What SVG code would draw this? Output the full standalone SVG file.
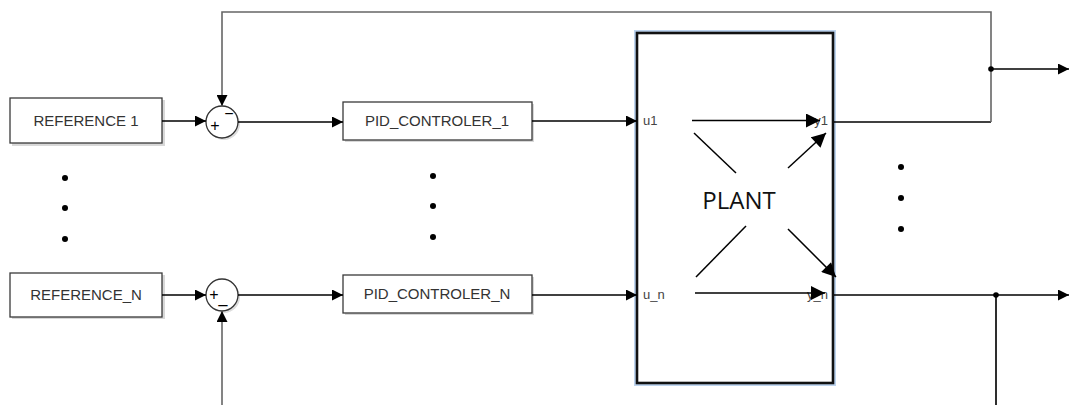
<svg xmlns="http://www.w3.org/2000/svg" width="1070" height="405" viewBox="0 0 1070 405">
<style>
.box{fill:#fff;stroke:#3a3a3a;stroke-width:1.3}
.shadow{fill:#d8d8d8}
.lbl{font-family:"Liberation Sans",Arial,sans-serif;font-size:15px;fill:#333;text-anchor:middle}
.port{font-family:"Liberation Sans",Arial,sans-serif;font-size:13px;fill:#444}
.wire{fill:none;stroke:#000;stroke-width:1.3}
.fb{fill:none;stroke:#666;stroke-width:1.6}
.big{fill:none;stroke:#000;stroke-width:1.5}
.sign{font-family:"Liberation Sans",Arial,sans-serif;font-size:16px;fill:#000;text-anchor:middle}
</style>
<defs>
<marker id="ah" viewBox="0 0 10 10" refX="10" refY="5" markerWidth="12" markerHeight="11" markerUnits="userSpaceOnUse" orient="auto">
<path d="M0,0 L10,5 L0,10 Z" fill="#000"/>
</marker>
<marker id="ahb" viewBox="0 0 10 10" refX="10" refY="5" markerWidth="15" markerHeight="14" markerUnits="userSpaceOnUse" orient="auto">
<path d="M0,0 L10,5 L0,10 Z" fill="#000"/>
</marker>
</defs>

<g id="ref1">
<rect class="shadow" x="12" y="100" width="153" height="46"/>
<rect class="box" x="10" y="98" width="152" height="45"/>
<text class="lbl" x="86" y="126">REFERENCE 1</text>
</g>
<g id="refN">
<rect class="shadow" x="12" y="275" width="153" height="44"/>
<rect class="box" x="10" y="273" width="152" height="44"/>
<text class="lbl" x="86" y="300">REFERENCE_N</text>
</g>
<g id="sum1">
<circle cx="224" cy="124" r="16" fill="#ddd"/>
<circle cx="222" cy="122" r="16" fill="#fff" stroke="#333" stroke-width="1.3"/>
<text class="sign" x="215" y="131">+</text>
<text class="sign" x="229" y="119">−</text>
</g>
<g id="sumN">
<circle cx="224" cy="297" r="16" fill="#ddd"/>
<circle cx="222" cy="295" r="16" fill="#fff" stroke="#333" stroke-width="1.3"/>
<text class="sign" x="214" y="300">+</text>
<text class="sign" x="223" y="303">_</text>
</g>
<g id="pid1">
<rect class="shadow" x="345" y="104" width="189" height="38"/>
<rect class="box" x="343" y="102" width="189" height="38"/>
<text class="lbl" x="437" y="126">PID_CONTROLER_1</text>
</g>
<g id="pidN">
<rect class="shadow" x="345" y="277" width="189" height="38"/>
<rect class="box" x="343" y="275" width="189" height="38"/>
<text class="lbl" x="437" y="299">PID_CONTROLER_N</text>
</g>
<g id="plant">
<rect x="637" y="33" width="196" height="350" fill="none" stroke="#bcd3ee" stroke-width="6"/>
<rect x="637" y="33" width="196" height="350" fill="#fff" stroke="#111" stroke-width="2.6"/>
<text class="port" x="643" y="125">u1</text>
<text class="port" x="643" y="299">u_n</text>
<text class="port" x="828" y="125" text-anchor="end">y1</text>
<text class="port" x="828" y="299" text-anchor="end">y_n</text>
<text x="739" y="209" font-family="'Open Sans','Liberation Sans',sans-serif" font-size="24" fill="#111" text-anchor="middle">PLANT</text>
<line class="big" x1="692" y1="120.5" x2="820" y2="120.5" marker-end="url(#ahb)"/>
<line class="big" x1="695" y1="293" x2="825" y2="293" marker-end="url(#ahb)"/>
<line class="big" x1="694" y1="133" x2="736" y2="173"/>
<line class="big" x1="788" y1="168" x2="826" y2="133" marker-end="url(#ahb)"/>
<line class="big" x1="696" y1="277" x2="746" y2="226"/>
<line class="big" x1="788" y1="229" x2="836" y2="277" marker-end="url(#ahb)"/>
</g>
<g id="dots" fill="#000">
<circle cx="65" cy="178" r="3"/>
<circle cx="65" cy="208" r="3"/>
<circle cx="65" cy="239" r="3"/>
<circle cx="433" cy="176" r="3"/>
<circle cx="433" cy="206" r="3"/>
<circle cx="433" cy="237" r="3"/>
<circle cx="901" cy="167" r="3"/>
<circle cx="901" cy="198" r="3"/>
<circle cx="901" cy="229" r="3"/>
</g>
<g id="connectors">
<line class="wire" x1="162" y1="121" x2="206" y2="121" marker-end="url(#ah)"/>
<line class="wire" x1="162" y1="295" x2="206" y2="295" marker-end="url(#ah)"/>
<line class="wire" x1="238" y1="122" x2="343" y2="122" marker-end="url(#ah)"/>
<line class="wire" x1="238" y1="295" x2="343" y2="295" marker-end="url(#ah)"/>
<line class="wire" x1="532" y1="121" x2="637" y2="121" marker-end="url(#ah)"/>
<line class="wire" x1="532" y1="295" x2="637" y2="295" marker-end="url(#ah)"/>
<polyline class="wire" points="834,122 991,122"/>
<polyline class="fb" points="991,122 991,12 222,12 222,106" marker-end="url(#ah)"/>
<line class="wire" x1="991" y1="69" x2="1069" y2="69" marker-end="url(#ah)"/>
<circle cx="991" cy="69" r="2.8" fill="#000"/>
<line class="wire" x1="834" y1="295" x2="1069" y2="295" marker-end="url(#ah)"/>
<polyline class="fb" points="996,295 996,407 222,407 222,311" marker-end="url(#ah)"/>
<line class="wire" x1="996" y1="295" x2="996" y2="405"/>
<circle cx="996" cy="295" r="2.8" fill="#000"/>
</g>
</svg>
